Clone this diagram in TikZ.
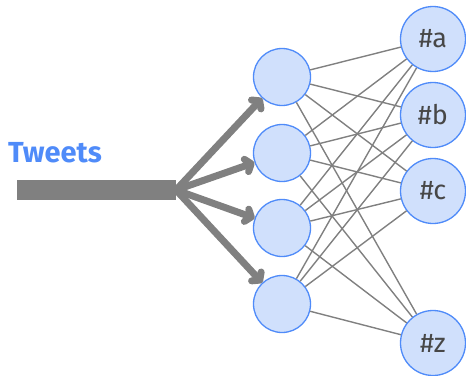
\documentclass[tikz,border=0pt]{standalone}
\usepackage{fontspec}
\setmainfont{Fira Sans}
\usetikzlibrary{arrows.meta}
\definecolor{tagblue}{HTML}{4F8BF9}
\definecolor{tagfill}{HTML}{D0E0FC}
\definecolor{wiregray}{HTML}{808080}

\begin{document}
\begin{tikzpicture}[
  x=1pt, y=-1pt,
  unit/.style={
    circle,
    draw=tagblue,
    line width=1.3pt,
    fill=tagfill,
    minimum size=57pt,
    inner sep=0pt,
    font=\fontsize{27}{30}\selectfont,
    text=black!72,
  },
  tag/.style={unit, minimum size=65pt},
  wire/.style={
    wiregray,
    line width=1.4pt,
  },
  feed/.style={
    -{Straight Barb[round,length=5pt,width=13pt]},
    wiregray,
    line width=7pt,
  },
]
\useasboundingbox (0,0) rectangle (466,375);

% Nodes
\node[unit] (h1) at (282,77)  {};
\node[unit] (h2) at (282,153) {};
\node[unit] (h3) at (282,228) {};
\node[unit] (h4) at (282,304) {};

\node[tag] (oa) at (433,39)  {\#a};
\node[tag] (ob) at (433,115) {\#b};
\node[tag] (oc) at (433,191) {\#c};
\node[tag] (oz) at (433,343) {\#z};

\node[font=\fontsize{29}{33}\selectfont\bfseries, text=tagblue] (tweets) at (55,153) {Tweets};

% Connections
\foreach \h in {h1,h2,h3,h4}
  \foreach \o in {oa,ob,oc,oz}
    \draw[wire] (\h) -- (\o);

% Input stream
\coordinate (src) at (17,190);
\coordinate (fork) at (176,190);
\draw[wiregray, line width=20pt] (src) -- (fork);
\foreach \h in {h1,h2,h3,h4}
  \draw[feed] (fork) -- (\h);

\end{tikzpicture}
\end{document}
